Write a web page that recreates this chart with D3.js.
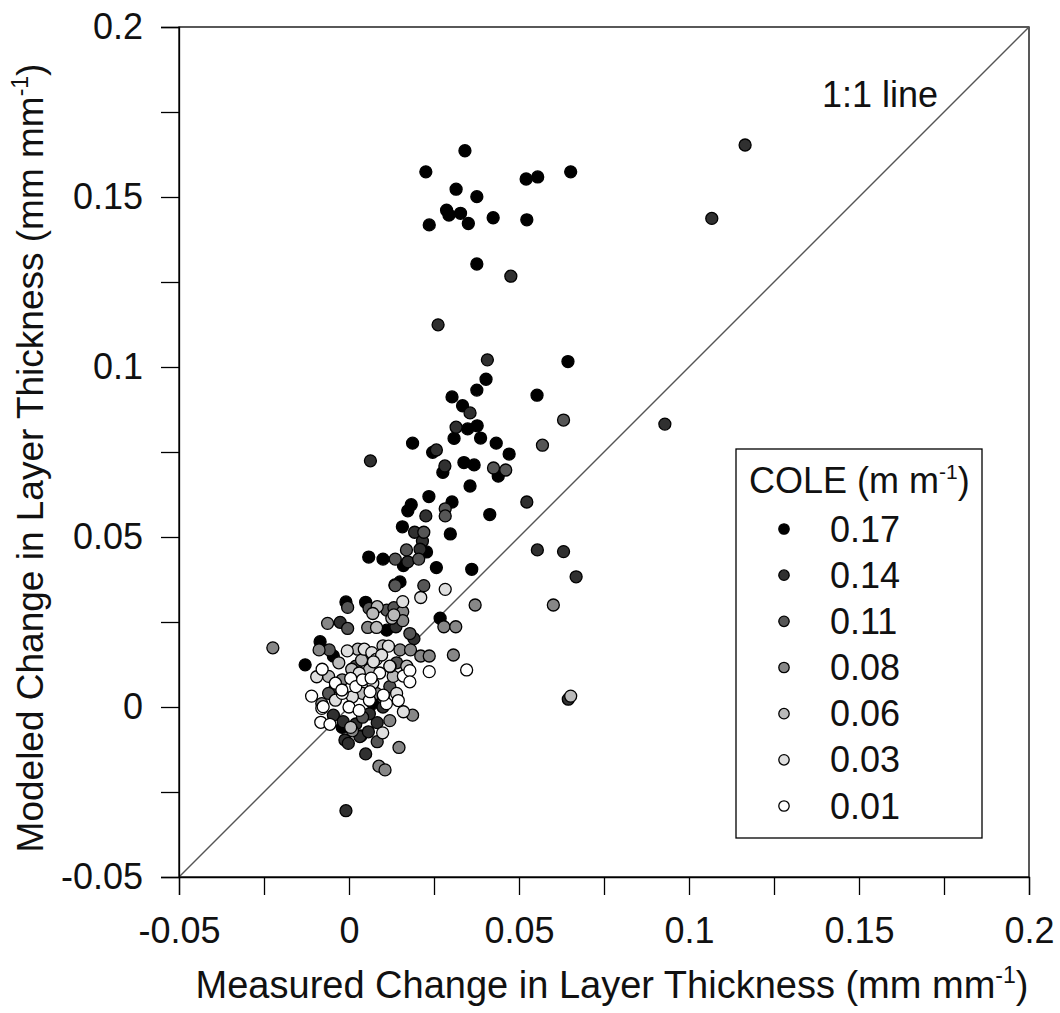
<!DOCTYPE html>
<html lang="en">
<head>
<meta charset="UTF-8">
<title>Modeled vs Measured Change in Layer Thickness</title>
<script src="https://d3js.org/d3.v7.min.js"></script>
<style>
  body { margin: 0; background: #fff; }
  text { font-family: "Liberation Sans", Arial, sans-serif; fill: #111; }
</style>
</head>
<body>
<script>
// COLE classes, legend order (darkest first)
const coleLabels = ["0.17", "0.14", "0.11", "0.08", "0.06", "0.03", "0.01"];
const coleFills = ["#000000", "#303030", "#565656", "#878787", "#bababa", "#dfdfdf", "#ffffff"];

// [measured, modeled] per class
const cole017 = [
  [0.0341, 0.1636], [0.0226, 0.1574], [0.0652, 0.1574], [0.0521, 0.1553], [0.0555, 0.1559],
  [0.0315, 0.1523], [0.0376, 0.1501], [0.0287, 0.1461], [0.0294, 0.1447], [0.0328, 0.1452],
  [0.0351, 0.1422], [0.0424, 0.1439], [0.0523, 0.1433], [0.0236, 0.1418], [0.0376, 0.1303],
  [0.0644, 0.1016], [0.0403, 0.0964], [0.0376, 0.0932], [0.0303, 0.0912], [0.0553, 0.0917],
  [0.0334, 0.0886], [0.0349, 0.0818], [0.0377, 0.0827], [0.0309, 0.0790], [0.0387, 0.0791],
  [0.0187, 0.0776], [0.0433, 0.0776], [0.0246, 0.0749], [0.0471, 0.0744], [0.0276, 0.0690],
  [0.0338, 0.0719], [0.0368, 0.0712], [0.0439, 0.0679], [0.0356, 0.0650], [0.0235, 0.0619],
  [0.0303, 0.0603], [0.0183, 0.0595], [0.0173, 0.0577], [0.0414, 0.0566], [0.0157, 0.0530],
  [0.0298, 0.0509], [0.0228, 0.0456], [0.0058, 0.0441], [0.0100, 0.0435], [0.0160, 0.0416],
  [0.0257, 0.0410], [0.0361, 0.0405], [0.0150, 0.0368], [-0.0009, 0.0309], [0.0049, 0.0308],
  [0.0111, 0.0226], [0.0268, 0.0261], [-0.0085, 0.0192], [-0.0046, 0.0150], [-0.0129, 0.0124],
  [0.0035, -0.0085], [-0.0020, -0.0060], [0.0070, 0.0010]
];
const cole014 = [
  [0.1165, 0.1653], [0.1067, 0.1437], [0.0929, 0.0832], [0.0476, 0.1267], [0.0262, 0.1124],
  [0.0407, 0.1021], [0.0356, 0.0865], [0.0315, 0.0823], [0.0257, 0.0756], [0.0063, 0.0724],
  [0.0282, 0.0709], [0.0523, 0.0603], [0.0226, 0.0562], [0.0193, 0.0514], [0.0216, 0.0488],
  [0.0209, 0.0464], [0.0173, 0.0427], [0.0554, 0.0462], [0.0631, 0.0457], [0.0668, 0.0383],
  [0.0135, 0.0359], [-0.0026, 0.0249], [0.0138, 0.0236], [0.0191, 0.0201], [-0.0046, -0.0024],
  [-0.0017, -0.0043], [-0.0012, -0.0097], [-0.0002, -0.0107], [0.0032, -0.0087], [0.0057, -0.0073],
  [0.0083, -0.0046], [0.0049, -0.0138], [-0.0009, -0.0305], [0.0645, 0.0023], [0.0020, -0.0050],
  [0.0060, -0.0020], [0.0100, 0.0000], [-0.0040, 0.0060]
];
const cole011 = [
  [0.0631, 0.0844], [0.0569, 0.0770], [0.0425, 0.0703], [0.0461, 0.0697], [0.0283, 0.0583],
  [0.0283, 0.0562], [0.0220, 0.0514], [0.0169, 0.0462], [0.0136, 0.0435], [0.0205, 0.0435],
  [0.0136, 0.0357], [0.0220, 0.0357], [-0.0004, 0.0293], [0.0059, 0.0290], [0.0111, 0.0285],
  [0.0132, 0.0292], [-0.0004, 0.0231], [0.0179, 0.0216], [-0.0058, 0.0168], [0.0083, -0.0102],
  [0.0020, 0.0120], [-0.0060, 0.0040], [0.0120, 0.0060], [0.0040, -0.0030], [0.0140, 0.0130]
];
const cole008 = [
  [0.0601, 0.0300], [0.0371, 0.0300], [0.0158, 0.0280], [-0.0063, 0.0246], [0.0055, 0.0234],
  [0.0158, 0.0254], [0.0279, 0.0236], [0.0314, 0.0236], [-0.0224, 0.0174], [-0.0088, 0.0168],
  [0.0150, 0.0168], [0.0181, 0.0168], [0.0211, 0.0150], [0.0236, 0.0150], [0.0307, 0.0153],
  [0.0147, -0.0119], [0.0088, -0.0174], [0.0106, -0.0185], [0.0187, -0.0024], [-0.0020, 0.0080],
  [0.0080, 0.0040], [0.0050, 0.0140], [-0.0080, 0.0010], [0.0120, -0.0040], [0.0010, -0.0070]
];
const cole006 = [
  [0.0652, 0.0032], [0.0083, 0.0295], [0.0070, 0.0275], [0.0126, 0.0261], [0.0081, 0.0234],
  [0.0026, 0.0170], [0.0005, -0.0060], [0.0100, 0.0180], [0.0060, 0.0110], [-0.0030, 0.0130],
  [0.0130, 0.0090], [0.0040, 0.0040], [-0.0060, 0.0090], [0.0170, 0.0120], [0.0132, 0.0271],
  [0.0008, 0.0111], [0.0037, 0.0138], [0.0121, 0.0119]
];
const cole003 = [
  [0.0283, 0.0346], [0.0211, 0.0322], [0.0158, 0.0310], [-0.0005, 0.0165], [0.0045, 0.0170],
  [0.0067, 0.0160], [0.0116, 0.0179], [-0.0095, 0.0089], [0.0101, 0.0032], [0.0160, -0.0014],
  [0.0099, -0.0076], [0.0030, 0.0100], [0.0080, 0.0140], [-0.0040, 0.0020], [0.0120, 0.0120],
  [0.0070, 0.0070], [0.0010, 0.0030], [0.0140, 0.0040], [0.0096, 0.0153], [0.0072, 0.0133]
];
const cole001 = [
  [0.0236, 0.0104], [0.0346, 0.0109], [-0.0079, 0.0111], [0.0160, 0.0091], [0.0179, 0.0107],
  [0.0005, 0.0084], [-0.0110, 0.0032], [-0.0080, -0.0004], [-0.0083, -0.0045], [-0.0056, -0.0051],
  [0.0145, 0.0019], [0.0020, 0.0060], [0.0040, 0.0080], [0.0060, 0.0020], [-0.0020, 0.0040],
  [0.0090, 0.0100], [0.0110, 0.0010], [0.0000, 0.0000], [-0.0040, 0.0070], [0.0030, -0.0010],
  [0.0065, 0.0085], [-0.0076, 0.0001], [-0.0021, 0.0050], [0.0062, 0.0045], [0.0101, 0.0035],
  [0.0179, 0.0074]
];
const coleSeries = [cole017, cole014, cole011, cole008, cole006, cole003, cole001];

const axisTicks = d3.range(-0.05, 0.2001, 0.025).map(d => +d.toFixed(3));
const tickLabel = d => (Math.round(d * 1000) % 50 === 0) ? String(d) : "";

const width = 1060, height = 1013;
const plotL = 179, plotR = 1029, plotT = 27, plotB = 877;

const svg = d3.select("body").append("svg")
  .attr("width", width).attr("height", height);

const x = d3.scaleLinear().domain([-0.05, 0.2]).range([plotL, plotR]);
const y = d3.scaleLinear().domain([-0.05, 0.2]).range([plotB, plotT]);

// frame
svg.append("rect")
  .attr("x", plotL).attr("y", plotT)
  .attr("width", plotR - plotL).attr("height", plotB - plotT)
  .attr("fill", "none").attr("stroke", "#000").attr("stroke-width", 1.3);

// 1:1 line
svg.append("line")
  .attr("x1", x(-0.05)).attr("y1", y(-0.05))
  .attr("x2", x(0.2)).attr("y2", y(0.2))
  .attr("stroke", "#555").attr("stroke-width", 1.4);

svg.append("text")
  .attr("x", 822).attr("y", 107)
  .attr("font-size", 36)
  .text("1:1 line");

// axes
const xAxis = svg.append("g")
  .attr("transform", "translate(0," + plotB + ")")
  .call(d3.axisBottom(x).tickValues(axisTicks).tickSize(18).tickPadding(22).tickFormat(tickLabel));
const yAxis = svg.append("g")
  .attr("transform", "translate(" + plotL + ",0)")
  .call(d3.axisLeft(y).tickValues(axisTicks).tickSize(18).tickPadding(18).tickFormat(tickLabel));

[xAxis, yAxis].forEach(g => {
  g.select(".domain").attr("stroke", "#000").attr("stroke-width", 1.3);
  g.selectAll(".tick line").attr("stroke", "#000").attr("stroke-width", 1.3);
  g.selectAll(".tick text")
    .attr("font-size", 36)
    .attr("font-family", "Liberation Sans, Arial, sans-serif")
    .attr("fill", "#111");
});

// axis titles
function unitTitle(sel, label) {
  sel.append("tspan").text(label + " (mm mm");
  sel.append("tspan").attr("font-size", 23).attr("dy", -15).text("-1");
  sel.append("tspan").attr("dy", 15).text(")");
}
const xTitle = svg.append("text")
  .attr("x", 612).attr("y", 998)
  .attr("text-anchor", "middle").attr("font-size", 38);
unitTitle(xTitle, "Measured Change in Layer Thickness");

const yTitle = svg.append("text")
  .attr("transform", "translate(43,458) rotate(-90)")
  .attr("text-anchor", "middle").attr("font-size", 37);
unitTitle(yTitle, "Modeled Change in Layer Thickness");

// points, darkest first so lighter classes sit on top
coleSeries.forEach((pts, i) => {
  svg.append("g").selectAll("circle")
    .data(pts)
    .enter()
    .append("circle")
    .attr("cx", d => x(d[0]))
    .attr("cy", d => y(d[1]))
    .attr("r", 6)
    .attr("fill", coleFills[i])
    .attr("stroke", "#000")
    .attr("stroke-width", 1.3);
});

// legend
const legend = svg.append("g");
legend.append("rect")
  .attr("x", 736).attr("y", 449)
  .attr("width", 246).attr("height", 389)
  .attr("fill", "#fff").attr("stroke", "#000").attr("stroke-width", 1.3);

const legTitle = legend.append("text")
  .attr("x", 749).attr("y", 493).attr("font-size", 36);
legTitle.append("tspan").text("COLE (m m");
legTitle.append("tspan").attr("font-size", 21).attr("dy", -14).text("-1");
legTitle.append("tspan").attr("dy", 14).text(")");

const rowY = d3.scalePoint().domain(coleLabels).range([529, 806]);
coleLabels.forEach((lab, i) => {
  legend.append("circle")
    .attr("cx", 784).attr("cy", rowY(lab))
    .attr("r", 5.2)
    .attr("fill", coleFills[i])
    .attr("stroke", "#000").attr("stroke-width", 1.3);
  legend.append("text")
    .attr("x", 830).attr("y", rowY(lab) + 12.5)
    .attr("font-size", 36)
    .text(lab);
});
</script>
</body>
</html>
